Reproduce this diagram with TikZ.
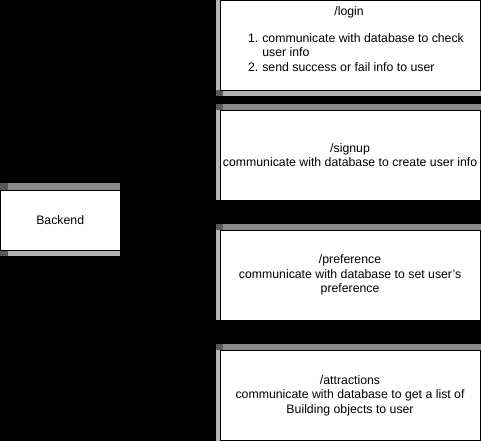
\documentclass[tikz,border=0pt]{standalone}
\usepackage{fontspec}
\setmainfont{Liberation Sans}
\usepackage{xcolor}
\usepackage{tikz}
\usetikzlibrary{positioning, calc}

\definecolor{stripdark}{HTML}{585858}
\definecolor{stripmid}{HTML}{8A8A8A}
\definecolor{striplight}{HTML}{B4B4B4}

\begin{document}
\begin{tikzpicture}[x=1pt, y=-1pt,
    every node/.style={font=\fontsize{12.3}{14.5}\selectfont, inner sep=0pt},
    route/.style={draw=black, thin, fill=white, minimum width=260pt, minimum height=90pt, align=center}]
  \fill[black] (0,0) rectangle (481,441);
  % backend box with its grey bands
  \fill[stripmid]   (0,183) rectangle (120,190);
  \fill[stripdark]  (0,183) rectangle (8,190);
  \fill[striplight] (0,250) rectangle (120,256);
  \fill[stripdark]  (0,250) rectangle (8,256);
  \node[draw=black, thin, fill=white, minimum width=120pt, minimum height=60pt] (backend) at (60,220) {Backend};
  % grey bands of the route boxes
  \foreach \top/\bot in {0/90, 110/200, 230/320, 350/441} {
    \fill[striplight] (216,\top) rectangle (220,\bot);
  }
  \foreach \top in {110, 230, 350} {
    \fill[stripmid]  (216,\top-6) rectangle (481,\top);
    \fill[stripdark] (216,\top-6) rectangle (223,\top);
  }
  \fill[striplight] (216,90) rectangle (481,96);
  \fill[stripdark]  (216,90) rectangle (223,96);
  % route boxes
  \node[route] (login) at (350,45) {};
  \node (logintitle) at (349,12) {/login};
  \node[anchor=base east] (num1) at (258.5,42) {1.};
  \node[anchor=base west] (item1) at (262,42) {communicate with database to check};
  \node[anchor=base west] (item1b) at (262,56.5) {user info};
  \node[anchor=base east] (num2) at (258.5,71) {2.};
  \node[anchor=base west] (item2) at (262,71) {send success or fail info to user};
  \node[route] (signup) at (350,155) {/signup\\communicate with database to create user info};
  \node[route] (preference) at (350,275) {/preference\\communicate with database to set user\symbol{"27}s\\preference};
  \node[route] (attractions) at (350,395.5) {/attractions\\communicate with database to get a list of\\Building objects to user};
\end{tikzpicture}
\end{document}
